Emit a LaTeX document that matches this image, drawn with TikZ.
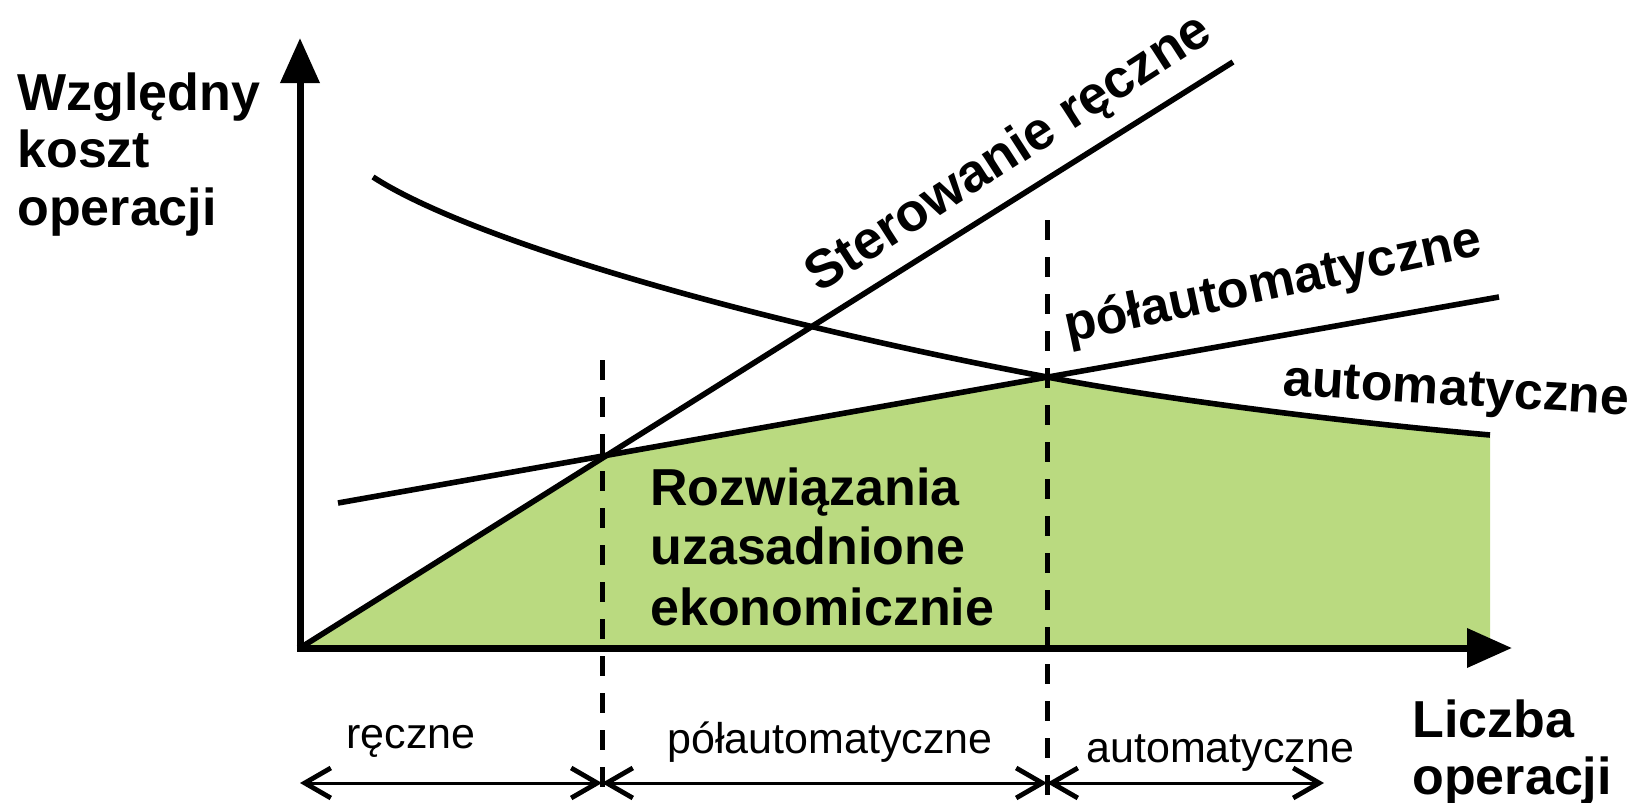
\documentclass[tikz,border=0pt]{standalone}
\usepackage{fontspec}
\setmainfont{Liberation Sans}
\usetikzlibrary{arrows.meta}
\definecolor{econgreen}{RGB}{186,218,128}
\tikzset{
  axis/.style={line width=3.5pt,-{Triangle[length=22.5pt,width=19pt]}},
  costline/.style={line width=2.8pt},
  divider/.style={line width=2.5pt,dash pattern=on 10pt off 8.5pt},
  barb/.tip={Straight Barb[length=13pt,width=15pt,line width=2.4pt]},
  spanarrow/.style={line width=1.5pt,{barb}-{barb}},
  bigtxt/.style={font=\fontsize{26}{29}\selectfont\bfseries,inner sep=0pt},
  smalltxt/.style={font=\fontsize{21.5}{24}\selectfont,inner sep=0pt}
}
\begin{document}
\begin{tikzpicture}[x=0.5pt,y=-0.5pt]
\useasboundingbox (0,0) rectangle (1646,803);
% key points
\coordinate (O) at (300,648);
\coordinate (ytip) at (300,38);
\coordinate (xtip) at (1512,648);
\coordinate (P1) at (602,458);
\coordinate (P2) at (1047,377);
\coordinate (manEnd) at (1233,62);
\coordinate (semiStart) at (338,503);
\coordinate (semiEnd) at (1499,297);
\coordinate (autoStart) at (373,177);
\coordinate (autoEnd) at (1490,435);
\coordinate (autoFoot) at (1490,648);
\coordinate (d1top) at (602,360);
\coordinate (d1bot) at (602,803);
\coordinate (d2top) at (1047,220);
\coordinate (d2bot) at (1047,803);
\coordinate (r0) at (300,783);
\coordinate (r1) at (602,783);
\coordinate (r2) at (1047,783);
\coordinate (r3) at (1324,783);
% green region
\fill[econgreen] (O) -- (P1) -- (P2) .. controls (1156,398) and (1333,421) .. (autoEnd) -- (autoFoot) -- cycle;
% dividers
\draw[divider] (d1top) -- (d1bot);
\draw[divider] (d2top) -- (d2bot);
% cost lines
\draw[costline] (O) -- (manEnd);
\draw[costline] (semiStart) -- (semiEnd);
\draw[costline] (autoStart) .. controls (467,238) and (736,318) .. (P2)
  .. controls (1156,398) and (1333,421) .. (autoEnd);
% axes
\draw[axis] (O) -- (ytip);
\draw[axis] ([xshift=-1.75pt]O) -- (xtip);
% range arrows
\draw[spanarrow] (r0) -- (r1);
\draw[spanarrow] (r1) -- (r2);
\draw[spanarrow] (r2) -- (r3);
% texts
\node[bigtxt,anchor=base west] (yl1) at (17,110) {Względny};
\node[bigtxt,anchor=base west] (yl2) at (17,167) {koszt};
\node[bigtxt,anchor=base west] (yl3) at (17,225) {operacji};
\node[bigtxt,anchor=base west] (xl1) at (1412,737) {Liczba};
\node[bigtxt,anchor=base west] (xl2) at (1412,794) {operacji};
\node[bigtxt,anchor=base west] (rz1) at (650,505) {Rozwiązania};
\node[bigtxt,anchor=base west] (rz2) at (650,564) {uzasadnione};
\node[bigtxt,anchor=base west] (rz3) at (650,625) {ekonomicznie};
\node[bigtxt,anchor=base west,rotate=32.8,font=\fontsize{26.8}{29}\selectfont\bfseries] (manLbl) at (819,294) {Sterowanie ręczne};
\node[bigtxt,anchor=base west,rotate=12] (semiLbl) at (1068,343) {półautomatyczne};
\node[bigtxt,anchor=base west,rotate=-3.3] (autoLbl) at (1282,395) {automatyczne};
\node[smalltxt,anchor=base west] (b1) at (346,748) {ręczne};
\node[smalltxt,anchor=base west] (b2) at (667,753) {półautomatyczne};
\node[smalltxt,anchor=base west] (b3) at (1086,762) {automatyczne};
\end{tikzpicture}
\end{document}
